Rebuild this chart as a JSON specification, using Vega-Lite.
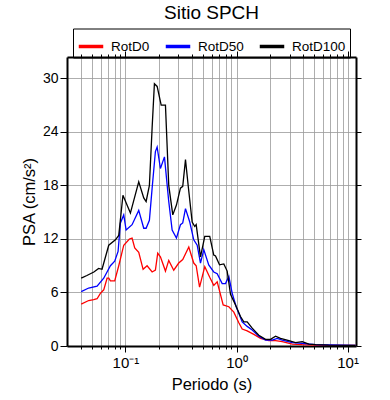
{
  "$schema": "https://vega.github.io/schema/vega-lite/v6.json",
  "width": 289,
  "height": 289,
  "autosize": {"type": "none"},
  "padding": {"left": 67, "top": 57, "right": 34, "bottom": 54},
  "background": "white",
  "title": {"text": "Sitio SPCH", "fontSize": 19, "font": "Liberation Sans", "fontWeight": "normal", "anchor": "middle", "offset": 5, "color": "black"},
  "datasets": {
    "psa": [
      {"serie": "RotD0", "T": 0.040, "PSA": 4.7}, {"serie": "RotD0", "T": 0.0467, "PSA": 5.1}, {"serie": "RotD0", "T": 0.0518, "PSA": 5.2}, {"serie": "RotD0", "T": 0.0556, "PSA": 5.3}, {"serie": "RotD0", "T": 0.0595, "PSA": 5.9}, {"serie": "RotD0", "T": 0.0638, "PSA": 6.3}, {"serie": "RotD0", "T": 0.0684, "PSA": 7.6}, {"serie": "RotD0", "T": 0.0708, "PSA": 7.6}, {"serie": "RotD0", "T": 0.0733, "PSA": 7.3}, {"serie": "RotD0", "T": 0.0801, "PSA": 7.3}, {"serie": "RotD0", "T": 0.0871, "PSA": 9.0}, {"serie": "RotD0", "T": 0.0966, "PSA": 11.3}, {"serie": "RotD0", "T": 0.1086, "PSA": 12.0}, {"serie": "RotD0", "T": 0.1148, "PSA": 12.1}, {"serie": "RotD0", "T": 0.1213, "PSA": 11.0}, {"serie": "RotD0", "T": 0.1318, "PSA": 10.5}, {"serie": "RotD0", "T": 0.1443, "PSA": 8.6}, {"serie": "RotD0", "T": 0.1567, "PSA": 9.0}, {"serie": "RotD0", "T": 0.1740, "PSA": 8.3}, {"serie": "RotD0", "T": 0.1862, "PSA": 8.5}, {"serie": "RotD0", "T": 0.1954, "PSA": 10.4}, {"serie": "RotD0", "T": 0.2066, "PSA": 10.0}, {"serie": "RotD0", "T": 0.2293, "PSA": 8.4}, {"serie": "RotD0", "T": 0.2455, "PSA": 9.6}, {"serie": "RotD0", "T": 0.2723, "PSA": 8.5}, {"serie": "RotD0", "T": 0.3020, "PSA": 9.3}, {"serie": "RotD0", "T": 0.3281, "PSA": 9.7}, {"serie": "RotD0", "T": 0.3719, "PSA": 11.1}, {"serie": "RotD0", "T": 0.4121, "PSA": 9.3}, {"serie": "RotD0", "T": 0.4335, "PSA": 9.0}, {"serie": "RotD0", "T": 0.465, "PSA": 6.6}, {"serie": "RotD0", "T": 0.5180, "PSA": 8.9}, {"serie": "RotD0", "T": 0.5741, "PSA": 7.7}, {"serie": "RotD0", "T": 0.6242, "PSA": 6.8}, {"serie": "RotD0", "T": 0.6699, "PSA": 7.2}, {"serie": "RotD0", "T": 0.7586, "PSA": 4.6}, {"serie": "RotD0", "T": 0.8527, "PSA": 4.4}, {"serie": "RotD0", "T": 0.9460, "PSA": 3.8}, {"serie": "RotD0", "T": 1.049, "PSA": 2.6}, {"serie": "RotD0", "T": 1.125, "PSA": 1.9}, {"serie": "RotD0", "T": 1.248, "PSA": 1.7}, {"serie": "RotD0", "T": 1.432, "PSA": 1.3}, {"serie": "RotD0", "T": 1.645, "PSA": 0.86}, {"serie": "RotD0", "T": 1.954, "PSA": 0.6}, {"serie": "RotD0", "T": 2.246, "PSA": 0.6}, {"serie": "RotD0", "T": 2.580, "PSA": 0.48}, {"serie": "RotD0", "T": 3.175, "PSA": 0.22}, {"serie": "RotD0", "T": 3.908, "PSA": 0.15}, {"serie": "RotD0", "T": 5.148, "PSA": 0.1}, {"serie": "RotD0", "T": 11.8, "PSA": 0.08},

      {"serie": "RotD50", "T": 0.040, "PSA": 6.1}, {"serie": "RotD50", "T": 0.0467, "PSA": 6.5}, {"serie": "RotD50", "T": 0.0556, "PSA": 6.7}, {"serie": "RotD50", "T": 0.0638, "PSA": 7.6}, {"serie": "RotD50", "T": 0.0733, "PSA": 9.0}, {"serie": "RotD50", "T": 0.0801, "PSA": 9.5}, {"serie": "RotD50", "T": 0.0859, "PSA": 10.6}, {"serie": "RotD50", "T": 0.0902, "PSA": 13.8}, {"serie": "RotD50", "T": 0.0966, "PSA": 14.7}, {"serie": "RotD50", "T": 0.1015, "PSA": 13.0}, {"serie": "RotD50", "T": 0.1148, "PSA": 13.6}, {"serie": "RotD50", "T": 0.1318, "PSA": 15.2}, {"serie": "RotD50", "T": 0.1462, "PSA": 13.2}, {"serie": "RotD50", "T": 0.1536, "PSA": 13.2}, {"serie": "RotD50", "T": 0.1644, "PSA": 14.1}, {"serie": "RotD50", "T": 0.1740, "PSA": 17.7}, {"serie": "RotD50", "T": 0.1862, "PSA": 21.8}, {"serie": "RotD50", "T": 0.1930, "PSA": 22.3}, {"serie": "RotD50", "T": 0.2066, "PSA": 19.9}, {"serie": "RotD50", "T": 0.2246, "PSA": 21.2}, {"serie": "RotD50", "T": 0.2455, "PSA": 16.2}, {"serie": "RotD50", "T": 0.2634, "PSA": 13.0}, {"serie": "RotD50", "T": 0.2879, "PSA": 12.1}, {"serie": "RotD50", "T": 0.3128, "PSA": 13.6}, {"serie": "RotD50", "T": 0.3281, "PSA": 13.8}, {"serie": "RotD50", "T": 0.3473, "PSA": 15.4}, {"serie": "RotD50", "T": 0.3795, "PSA": 13.9}, {"serie": "RotD50", "T": 0.4121, "PSA": 11.9}, {"serie": "RotD50", "T": 0.4426, "PSA": 11.3}, {"serie": "RotD50", "T": 0.4740, "PSA": 9.3}, {"serie": "RotD50", "T": 0.5073, "PSA": 10.8}, {"serie": "RotD50", "T": 0.5623, "PSA": 9.1}, {"serie": "RotD50", "T": 0.6242, "PSA": 8.3}, {"serie": "RotD50", "T": 0.6699, "PSA": 8.1}, {"serie": "RotD50", "T": 0.7430, "PSA": 7.0}, {"serie": "RotD50", "T": 0.7960, "PSA": 7.0}, {"serie": "RotD50", "T": 0.8527, "PSA": 7.8}, {"serie": "RotD50", "T": 0.9146, "PSA": 5.9}, {"serie": "RotD50", "T": 0.9938, "PSA": 4.4}, {"serie": "RotD50", "T": 1.125, "PSA": 2.7}, {"serie": "RotD50", "T": 1.248, "PSA": 2.2}, {"serie": "RotD50", "T": 1.384, "PSA": 1.8}, {"serie": "RotD50", "T": 1.588, "PSA": 1.1}, {"serie": "RotD50", "T": 1.825, "PSA": 0.67}, {"serie": "RotD50", "T": 2.097, "PSA": 0.67}, {"serie": "RotD50", "T": 2.327, "PSA": 0.86}, {"serie": "RotD50", "T": 2.580, "PSA": 0.67}, {"serie": "RotD50", "T": 3.175, "PSA": 0.37}, {"serie": "RotD50", "T": 3.908, "PSA": 0.3}, {"serie": "RotD50", "T": 5.148, "PSA": 0.15}, {"serie": "RotD50", "T": 11.8, "PSA": 0.08},

      {"serie": "RotD100", "T": 0.040, "PSA": 7.6}, {"serie": "RotD100", "T": 0.045, "PSA": 7.9}, {"serie": "RotD100", "T": 0.052, "PSA": 8.3}, {"serie": "RotD100", "T": 0.0574, "PSA": 8.7}, {"serie": "RotD100", "T": 0.0616, "PSA": 8.6}, {"serie": "RotD100", "T": 0.0708, "PSA": 11.3}, {"serie": "RotD100", "T": 0.0813, "PSA": 11.9}, {"serie": "RotD100", "T": 0.0871, "PSA": 12.4}, {"serie": "RotD100", "T": 0.095, "PSA": 16.9}, {"serie": "RotD100", "T": 0.1109, "PSA": 14.9}, {"serie": "RotD100", "T": 0.1318, "PSA": 18.4}, {"serie": "RotD100", "T": 0.1462, "PSA": 16.6}, {"serie": "RotD100", "T": 0.1536, "PSA": 16.2}, {"serie": "RotD100", "T": 0.1644, "PSA": 18.0}, {"serie": "RotD100", "T": 0.1740, "PSA": 24.5}, {"serie": "RotD100", "T": 0.1824, "PSA": 29.4}, {"serie": "RotD100", "T": 0.1930, "PSA": 29.1}, {"serie": "RotD100", "T": 0.2099, "PSA": 27.0}, {"serie": "RotD100", "T": 0.2293, "PSA": 27.0}, {"serie": "RotD100", "T": 0.2455, "PSA": 18.0}, {"serie": "RotD100", "T": 0.2669, "PSA": 14.7}, {"serie": "RotD100", "T": 0.2879, "PSA": 15.8}, {"serie": "RotD100", "T": 0.3128, "PSA": 17.7}, {"serie": "RotD100", "T": 0.3281, "PSA": 17.9}, {"serie": "RotD100", "T": 0.3473, "PSA": 20.9}, {"serie": "RotD100", "T": 0.3672, "PSA": 18.0}, {"serie": "RotD100", "T": 0.3989, "PSA": 13.9}, {"serie": "RotD100", "T": 0.4207, "PSA": 13.4}, {"serie": "RotD100", "T": 0.4335, "PSA": 13.6}, {"serie": "RotD100", "T": 0.4740, "PSA": 10.0}, {"serie": "RotD100", "T": 0.5180, "PSA": 12.3}, {"serie": "RotD100", "T": 0.5741, "PSA": 12.3}, {"serie": "RotD100", "T": 0.6242, "PSA": 10.2}, {"serie": "RotD100", "T": 0.6471, "PSA": 10.1}, {"serie": "RotD100", "T": 0.7031, "PSA": 9.1}, {"serie": "RotD100", "T": 0.7686, "PSA": 9.2}, {"serie": "RotD100", "T": 0.8241, "PSA": 8.4}, {"serie": "RotD100", "T": 0.8830, "PSA": 5.8}, {"serie": "RotD100", "T": 0.9795, "PSA": 4.6}, {"serie": "RotD100", "T": 1.086, "PSA": 3.3}, {"serie": "RotD100", "T": 1.163, "PSA": 2.7}, {"serie": "RotD100", "T": 1.248, "PSA": 2.7}, {"serie": "RotD100", "T": 1.384, "PSA": 2.0}, {"serie": "RotD100", "T": 1.588, "PSA": 1.2}, {"serie": "RotD100", "T": 1.825, "PSA": 0.75}, {"serie": "RotD100", "T": 2.024, "PSA": 0.75}, {"serie": "RotD100", "T": 2.246, "PSA": 1.1}, {"serie": "RotD100", "T": 2.490, "PSA": 0.86}, {"serie": "RotD100", "T": 2.960, "PSA": 0.6}, {"serie": "RotD100", "T": 3.400, "PSA": 0.37}, {"serie": "RotD100", "T": 3.908, "PSA": 0.48}, {"serie": "RotD100", "T": 4.482, "PSA": 0.22}, {"serie": "RotD100", "T": 5.148, "PSA": 0.15}, {"serie": "RotD100", "T": 6.739, "PSA": 0.1}, {"serie": "RotD100", "T": 11.8, "PSA": 0.08}
    ]
  },
  "data": {"name": "psa"},
  "layer": [
    {
      "transform": [{"filter": "datum.serie == 'RotD0'"}],
      "mark": {"type": "line", "strokeWidth": 1.3, "clip": true},
      "encoding": {
        "x": {"field": "T", "type": "quantitative",
          "scale": {"type": "log", "domain": [0.0298, 11.9], "nice": false},
          "axis": {"orient": "bottom", "title": "Periodo (s)",
            "values": [0.04,0.05,0.06,0.07,0.08,0.09,0.1,0.2,0.3,0.4,0.5,0.6,0.7,0.8,0.9,1,2,3,4,5,6,7,8,9,10],
            "labelExpr": "datum.value == 0.1 ? '10⁻¹' : datum.value == 1 ? '10⁰' : datum.value == 10 ? '10¹' : ''",
            "labelFlush": false, "labelOverlap": false,
            "grid": true, "gridColor": "#999999", "gridWidth": 0.8,
            "tickColor": "black", "tickWidth": 1,
            "tickSize": {"condition": {"test": "datum.value == 0.1 || datum.value == 1 || datum.value == 10", "value": 6}, "value": 3},
            "domainColor": "black", "domainWidth": 2,
            "labelFont": "Liberation Sans", "labelFontSize": 15, "labelColor": "black", "labelPadding": 3,
            "titleFont": "Liberation Sans", "titleFontSize": 16.5, "titleFontWeight": "normal", "titleColor": "black", "titlePadding": 6}
        },
        "y": {"field": "PSA", "type": "quantitative",
          "scale": {"domain": [0, 32.4], "nice": false},
          "axis": {"orient": "left", "title": "PSA (cm/s²)", "values": [0,6,12,18,24,30],
            "grid": true, "gridColor": "#999999", "gridWidth": 0.8,
            "tickColor": "black", "tickSize": 7, "tickWidth": 1,
            "domainColor": "black", "domainWidth": 2,
            "labelFont": "Liberation Sans", "labelFontSize": 14, "labelColor": "black", "labelPadding": 2,
            "titleFont": "Liberation Sans", "titleFontSize": 16.5, "titleFontWeight": "normal", "titleColor": "black", "titlePadding": 5}
        },
        "color": {"field": "serie", "type": "nominal",
          "scale": {"domain": ["RotD0", "RotD50", "RotD100"], "range": ["#ff0000", "#0000ff", "#000000"]},
          "legend": {"orient": "none", "legendX": 6, "legendY": -28.5, "direction": "horizontal", "columns": 3, "title": null,
            "strokeColor": "black", "padding": 4,
            "symbolType": "stroke", "symbolStrokeWidth": 3.5, "symbolSize": 600,
            "labelFont": "Liberation Sans", "labelFontSize": 13.5, "labelColor": "black", "labelOffset": 6, "columnPadding": 8}
        }
      }
    },
    {
      "transform": [{"filter": "datum.serie == 'RotD50'"}],
      "mark": {"type": "line", "strokeWidth": 1.3, "clip": true},
      "encoding": {
        "x": {"field": "T", "type": "quantitative", "axis": null},
        "y": {"field": "PSA", "type": "quantitative", "axis": null},
        "color": {"field": "serie", "type": "nominal"}
      }
    },
    {
      "transform": [{"filter": "datum.serie == 'RotD100'"}],
      "mark": {"type": "line", "strokeWidth": 1.3, "clip": true},
      "encoding": {
        "x": {"field": "T", "type": "quantitative", "axis": null},
        "y": {"field": "PSA", "type": "quantitative", "axis": null},
        "color": {"field": "serie", "type": "nominal"}
      }
    },
    {
      "transform": [{"filter": "datum.serie == 'RotD100'"}],
      "mark": {"type": "line", "strokeOpacity": 0, "clip": true},
      "encoding": {
        "x": {"field": "T", "type": "quantitative",
          "axis": {"orient": "top", "title": null, "labels": false, "grid": false,
            "values": [0.04,0.05,0.06,0.07,0.08,0.09,0.1,0.2,0.3,0.4,0.5,0.6,0.7,0.8,0.9,1,2,3,4,5,6,7,8,9,10],
            "tickColor": "black", "tickWidth": 1,
            "tickSize": {"condition": {"test": "datum.value == 0.1 || datum.value == 1 || datum.value == 10", "value": 6}, "value": 3},
            "domainColor": "black", "domainWidth": 2}
        },
        "y": {"field": "PSA", "type": "quantitative",
          "axis": {"orient": "right", "title": null, "labels": false, "grid": false, "values": [0,6,12,18,24,30],
            "tickColor": "black", "tickSize": 5, "tickWidth": 1,
            "domainColor": "black", "domainWidth": 2}
        }
      }
    }
  ],
  "resolve": {"axis": {"x": "independent", "y": "independent"}},
  "config": {"view": {"stroke": null}}
}
